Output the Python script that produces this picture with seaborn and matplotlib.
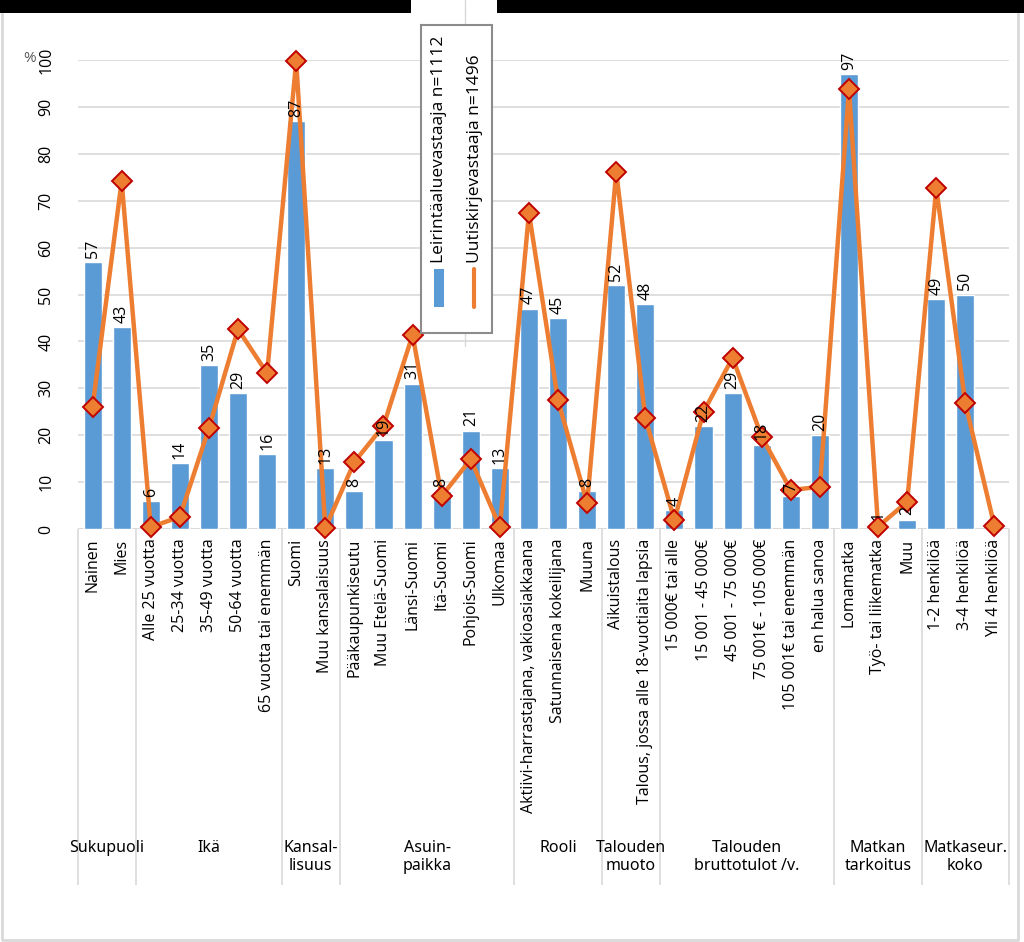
import numpy as np
import pandas as pd
import matplotlib
matplotlib.use('Agg')
import matplotlib.pyplot as plt
import seaborn as sns
from matplotlib.patches import Rectangle
from matplotlib.lines import Line2D

# ===== data =====
labels = ['Nainen', 'Mies',
          'Alle 25 vuotta', '25-34 vuotta', '35-49 vuotta', '50-64 vuotta', '65 vuotta tai enemmän',
          'Suomi', 'Muu kansalaisuus',
          'Pääkaupunkiseutu', 'Muu Etelä-Suomi', 'Länsi-Suomi', 'Itä-Suomi', 'Pohjois-Suomi', 'Ulkomaa',
          'Aktiivi-harrastajana, vakioasiakkaana', 'Satunnaisena kokeilijana', 'Muuna',
          'Aikuistalous', 'Talous, jossa alle 18-vuotiaita lapsia',
          '15 000€ tai alle', '15 001 - 45 000€', '45 001 - 75 000€', '75 001€ - 105 000€',
          '105 001€ tai enemmän', 'en halua sanoa',
          'Lomamatka', 'Työ- tai liikematka', 'Muu',
          '1-2 henkilöä', '3-4 henkilöä', 'Yli 4 henkilöä']

camp = [57, 43, 6, 14, 35, 29, 16, 87, 13, 8, 19, 31, 8, 21, 13, 47, 45, 8, 52, 48,
        4, 22, 29, 18, 7, 20, 97, 1, 2, 49, 50, np.nan]
news = [26, 74.2, 0.4, 2.6, 21.5, 42.6, 33.2, 99.8, 0.2, 14.3, 22, 41.4, 7, 14.9, 0.4,
        67.4, 27.4, 5.5, 76.2, 23.7, 1.9, 25, 36.5, 19.7, 8.3, 9, 93.8, 0.5, 5.8,
        72.7, 26.8, 0.6]

group_names = ['Sukupuoli', 'Ikä', 'Kansal-\nlisuus', 'Asuin-\npaikka', 'Rooli',
               'Talouden\nmuoto', 'Talouden\nbruttotulot /v.', 'Matkan\ntarkoitus',
               'Matkaseur.\nkoko']
group_sizes = [2, 5, 2, 6, 3, 2, 6, 3, 3]

legend_bar = 'Leirintäaluevastaaja n=1112'
legend_line = 'Uutiskirjevastaaja n=1496'

BLUE = '#5B9BD5'
ORANGE = '#ED7D31'
DARKRED = '#C00000'
GRID = '#D9D9D9'

sns.set_theme(style='white')
plt.rcParams['font.family'] = ['Open Sans', 'DejaVu Sans']

W, H = 1024, 942
fig = plt.figure(figsize=(W / 100, H / 100), dpi=100)


def fx(x):
    return x / W


def fy(y):
    return 1 - y / H


ax = fig.add_axes([fx(78), fy(529), (1009 - 78) / W, (529 - 60) / H])

pos = np.arange(len(labels))
df = pd.DataFrame({'pos': pos, 'label': labels, 'camp': camp, 'news': news})

sns.barplot(data=df, x='pos', y='camp', color=BLUE, saturation=1, width=0.62,
            ax=ax, zorder=2)
sns.lineplot(x=df['pos'], y=df['news'], ax=ax, color=ORANGE, lw=3.2, marker='D',
             markersize=10, markerfacecolor=ORANGE, markeredgecolor=DARKRED,
             markeredgewidth=1.4, sort=False, zorder=4, clip_on=False)

# data labels for the bars
for p, v in zip(pos, camp):
    if np.isnan(v):
        continue
    ax.annotate(f'{v:.0f}', (p, v), xytext=(0, 3), textcoords='offset points',
                rotation=90, ha='center', va='bottom', fontsize=11.5,
                color='black', zorder=6)

ax.set_xlim(-0.5, len(labels) - 0.5)
ax.set_ylim(0, 100)
ax.set_yticks(range(0, 101, 10))
ax.yaxis.grid(True, color=GRID, lw=1.2, zorder=0)
ax.set_axisbelow(True)
for s in ax.spines.values():
    s.set_visible(False)
ax.axhline(0, color=GRID, lw=1.2, zorder=1)

ax.set_xticks(pos)
ax.set_xticklabels(labels, rotation=90, fontsize=11.5, color='black')
ax.tick_params(axis='x', length=0, pad=7)
ax.tick_params(axis='y', length=0, pad=17, labelsize=11.5, labelcolor='black')
for t in ax.get_yticklabels():
    t.set_rotation(90)
    t.set_va('center')
ax.set_xlabel('')
ax.set_ylabel('')

# group separators and group labels
trans = ax.get_xaxis_transform()
bottom_frac = (529 - 885) / (529 - 60)
label_frac = (529 - 840) / (529 - 60)
edges = np.concatenate([[0], np.cumsum(group_sizes)]) - 0.5
ax.vlines(edges, bottom_frac, 0, transform=trans, colors=GRID, lw=1.2, clip_on=False)
for name, a, b in zip(group_names, edges[:-1], edges[1:]):
    ax.text((a + b) / 2, label_frac, name, transform=trans, ha='center', va='top',
            fontsize=11.5, family=['Noto Sans', 'DejaVu Sans'], linespacing=1.2,
            color='black')

fig.text(fx(30), fy(58), '%', ha='center', va='center', fontsize=11, color='#595959')

# outer frame and top black bars
fig.add_artist(Line2D([fx(2), fx(2), fx(1018), fx(1018)],
                      [fy(13), fy(940), fy(940), fy(13)], transform=fig.transFigure,
                      color=GRID, lw=2))
fig.add_artist(Line2D([fx(465), fx(465)], [fy(0), fy(346)], transform=fig.transFigure,
                      color=GRID, lw=1, zorder=1))
fig.add_artist(Rectangle((0, fy(13)), fx(411), 13 / H, transform=fig.transFigure,
                         facecolor='black', edgecolor='none', zorder=10))
fig.add_artist(Rectangle((fx(497), fy(13)), 1 - fx(497), 13 / H, transform=fig.transFigure,
                         facecolor='black', edgecolor='none', zorder=10))

# legend (rotated, drawn by hand)
fig.add_artist(Rectangle((fx(421), fy(333)), (492 - 421) / W, (333 - 25) / H,
                         transform=fig.transFigure, facecolor='white',
                         edgecolor='#8C8C8C', lw=1.5, zorder=8))
fig.add_artist(Rectangle((fx(434), fy(307)), 10 / W, 38 / H, transform=fig.transFigure,
                         facecolor=BLUE, edgecolor='none', zorder=9))
fig.add_artist(Line2D([fx(474), fx(474)], [fy(307), fy(269)], transform=fig.transFigure,
                      color=ORANGE, lw=3, zorder=9))
fig.text(fx(439), fy(263), legend_bar, rotation=90, ha='center', va='bottom',
         fontsize=12.5, color='black', zorder=9)
fig.text(fx(475), fy(263), legend_line, rotation=90, ha='center', va='bottom',
         fontsize=12.5, color='black', zorder=9)

fig.savefig('out.png', dpi=100, facecolor='white')
